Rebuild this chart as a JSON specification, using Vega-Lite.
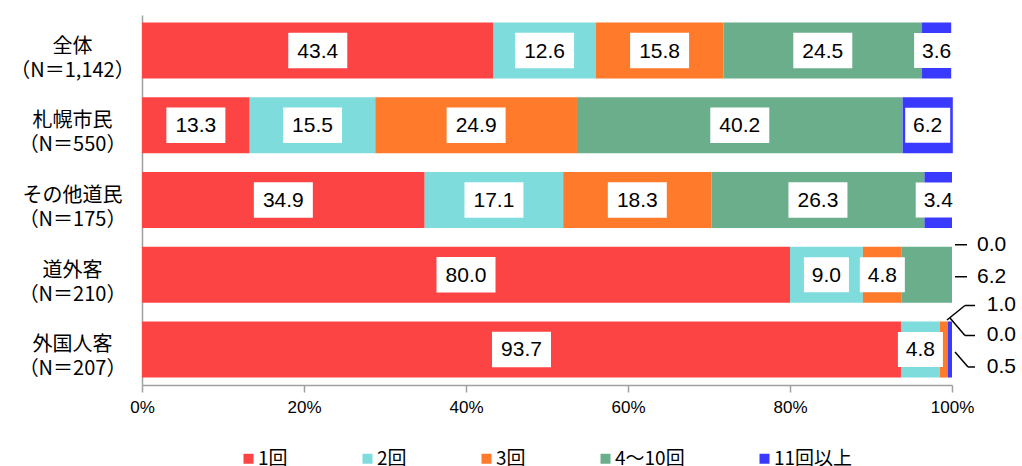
{
  "$schema": "https://vega.github.io/schema/vega-lite/v6.json",
  "width": 810,
  "height": 370,
  "autosize": "none",
  "padding": {"left": 142, "top": 15, "right": 70, "bottom": 81},
  "background": "white",
  "config": {"view": {"stroke": null}, "font": "Noto Sans CJK JP"},
  "datasets": {
    "d": [
      {"cat": "全体\n（N＝1,142）", "s": "1回", "o": 1, "v": 43.4},
      {"cat": "全体\n（N＝1,142）", "s": "2回", "o": 2, "v": 12.6},
      {"cat": "全体\n（N＝1,142）", "s": "3回", "o": 3, "v": 15.8},
      {"cat": "全体\n（N＝1,142）", "s": "4～10回", "o": 4, "v": 24.5},
      {"cat": "全体\n（N＝1,142）", "s": "11回以上", "o": 5, "v": 3.6},
      {"cat": "札幌市民\n（N＝550）", "s": "1回", "o": 1, "v": 13.3},
      {"cat": "札幌市民\n（N＝550）", "s": "2回", "o": 2, "v": 15.5},
      {"cat": "札幌市民\n（N＝550）", "s": "3回", "o": 3, "v": 24.9},
      {"cat": "札幌市民\n（N＝550）", "s": "4～10回", "o": 4, "v": 40.2},
      {"cat": "札幌市民\n（N＝550）", "s": "11回以上", "o": 5, "v": 6.2},
      {"cat": "その他道民\n（N＝175）", "s": "1回", "o": 1, "v": 34.9},
      {"cat": "その他道民\n（N＝175）", "s": "2回", "o": 2, "v": 17.1},
      {"cat": "その他道民\n（N＝175）", "s": "3回", "o": 3, "v": 18.3},
      {"cat": "その他道民\n（N＝175）", "s": "4～10回", "o": 4, "v": 26.3},
      {"cat": "その他道民\n（N＝175）", "s": "11回以上", "o": 5, "v": 3.4},
      {"cat": "道外客\n（N＝210）", "s": "1回", "o": 1, "v": 80.0},
      {"cat": "道外客\n（N＝210）", "s": "2回", "o": 2, "v": 9.0},
      {"cat": "道外客\n（N＝210）", "s": "3回", "o": 3, "v": 4.8},
      {"cat": "道外客\n（N＝210）", "s": "4～10回", "o": 4, "v": 6.2},
      {"cat": "道外客\n（N＝210）", "s": "11回以上", "o": 5, "v": 0.0},
      {"cat": "外国人客\n（N＝207）", "s": "1回", "o": 1, "v": 93.7},
      {"cat": "外国人客\n（N＝207）", "s": "2回", "o": 2, "v": 4.8},
      {"cat": "外国人客\n（N＝207）", "s": "3回", "o": 3, "v": 1.0},
      {"cat": "外国人客\n（N＝207）", "s": "4～10回", "o": 4, "v": 0.0},
      {"cat": "外国人客\n（N＝207）", "s": "11回以上", "o": 5, "v": 0.5}
    ]
  },
  "data": {"name": "d"},
  "transform": [
    {"stack": "v", "groupby": ["cat"], "sort": [{"field": "o", "order": "ascending"}], "as": ["v0", "v1"]},
    {"calculate": "(datum.v0 + datum.v1) / 2", "as": "mid"}
  ],
  "encoding": {
    "y": {
      "field": "cat",
      "type": "nominal",
      "sort": null,
      "scale": {"paddingInner": 0.25, "paddingOuter": 0.1},
      "axis": {
        "title": null,
        "ticks": false,
        "domainColor": "#a0a0a0",
        "domainWidth": 1.5,
        "labelExpr": "split(datum.value, '\\n')",
        "labelAlign": "center",
        "labelBaseline": "middle",
        "labelPadding": 70,
        "labelFontSize": 20,
        "labelLineHeight": 24,
        "labelOffset": -4,
        "labelColor": "#000000",
        "labelFont": "Noto Sans CJK JP"
      }
    }
  },
  "layer": [
    {
      "mark": {"type": "bar"},
      "encoding": {
        "x": {
          "field": "v0",
          "type": "quantitative",
          "scale": {"domain": [0, 100], "nice": false},
          "axis": {
            "title": null,
            "values": [0, 20, 40, 60, 80, 100],
            "labelExpr": "datum.value + '%'",
            "grid": false,
            "domainColor": "#a0a0a0",
            "domainWidth": 1.5,
            "tickColor": "#a0a0a0",
            "tickWidth": 1.5,
            "tickSize": 7,
            "labelFont": "Liberation Sans",
            "labelFontSize": 17,
            "labelColor": "#000000",
            "labelPadding": 7,
            "labelFlush": false,
            "labelOverlap": false
          }
        },
        "x2": {"field": "v1"},
        "color": {
          "field": "s",
          "type": "nominal",
          "scale": {
            "domain": ["1回", "2回", "3回", "4～10回", "11回以上"],
            "range": ["#fc4444", "#7fdcdc", "#ff7a2a", "#6aae8c", "#3a3aff"]
          },
          "legend": {
            "title": null,
            "orient": "none",
            "legendX": 97,
            "legendY": 434,
            "direction": "horizontal",
            "symbolType": "square",
            "symbolSize": 100,
            "symbolStrokeWidth": 0,
            "labelFontSize": 19,
            "labelFont": "Noto Sans CJK JP",
            "labelColor": "#000000",
            "labelOffset": 0,
            "columnPadding": 70,
            "padding": 0
          }
        }
      }
    },
    {
      "transform": [{"filter": "datum.v >= 3 && !(indexof(datum.cat, '道外客') === 0 && datum.o === 4)"}],
      "mark": {"type": "point", "filled": true, "color": "white", "opacity": 1},
      "encoding": {
        "x": {"field": "mid", "type": "quantitative"},
        "shape": {"condition": {"test": "datum.v >= 10", "value": "M-1,-0.6H1V0.6H-1Z"}, "value": "M-1,-0.78H1V0.78H-1Z"},
        "size": {"condition": {"test": "datum.v >= 10", "value": 3481}, "value": 2025}
      }
    },
    {
      "transform": [{"filter": "datum.v >= 3 && !(indexof(datum.cat, '道外客') === 0 && datum.o === 4)"}],
      "mark": {"type": "text", "font": "Liberation Sans", "fontSize": 21, "color": "#000000", "baseline": "middle", "align": "center", "dy": 1},
      "encoding": {
        "x": {"field": "mid", "type": "quantitative"},
        "text": {"field": "v", "type": "quantitative", "format": ".1f"}
      }
    },
    {
      "transform": [{"filter": "indexof(datum.cat, '道外客') === 0 && datum.o === 5"}],
      "mark": {"type": "text", "font": "Liberation Sans", "fontSize": 21, "color": "#000000", "baseline": "middle", "align": "left", "yOffset": -30},
      "encoding": {"x": {"datum": 103.1}, "text": {"field": "v", "type": "quantitative", "format": ".1f"}}
    },
    {
      "transform": [{"filter": "indexof(datum.cat, '道外客') === 0 && datum.o === 4"}],
      "mark": {"type": "text", "font": "Liberation Sans", "fontSize": 21, "color": "#000000", "baseline": "middle", "align": "left", "yOffset": 2},
      "encoding": {"x": {"datum": 103.1}, "text": {"field": "v", "type": "quantitative", "format": ".1f"}}
    },
    {
      "transform": [{"filter": "indexof(datum.cat, '外国人客') === 0 && datum.o === 3"}],
      "mark": {"type": "text", "font": "Liberation Sans", "fontSize": 21, "color": "#000000", "baseline": "middle", "align": "left", "yOffset": -44},
      "encoding": {"x": {"datum": 104.3}, "text": {"field": "v", "type": "quantitative", "format": ".1f"}}
    },
    {
      "transform": [{"filter": "indexof(datum.cat, '外国人客') === 0 && datum.o === 4"}],
      "mark": {"type": "text", "font": "Liberation Sans", "fontSize": 21, "color": "#000000", "baseline": "middle", "align": "left", "yOffset": -14},
      "encoding": {"x": {"datum": 104.3}, "text": {"field": "v", "type": "quantitative", "format": ".1f"}}
    },
    {
      "transform": [{"filter": "indexof(datum.cat, '外国人客') === 0 && datum.o === 5"}],
      "mark": {"type": "text", "font": "Liberation Sans", "fontSize": 21, "color": "#000000", "baseline": "middle", "align": "left", "yOffset": 18},
      "encoding": {"x": {"datum": 104.3}, "text": {"field": "v", "type": "quantitative", "format": ".1f"}}
    },
    {
      "transform": [{"filter": "indexof(datum.cat, '道外客') === 0 && datum.o === 5"}],
      "mark": {"type": "rule", "color": "#000000", "strokeWidth": 1.5, "yOffset": -30},
      "encoding": {"x": {"datum": 100.37}, "x2": {"datum": 101.85}}
    },
    {
      "transform": [{"filter": "indexof(datum.cat, '道外客') === 0 && datum.o === 4"}],
      "mark": {"type": "rule", "color": "#000000", "strokeWidth": 1.5, "yOffset": 2},
      "encoding": {"x": {"datum": 100.37}, "x2": {"datum": 101.85}}
    },
    {
      "transform": [{"filter": "indexof(datum.cat, '外国人客') === 0 && datum.o === 3"}],
      "mark": {"type": "rule", "color": "#000000", "strokeWidth": 1.5, "yOffset": -44},
      "encoding": {"x": {"datum": 101.6}, "x2": {"datum": 102.84}}
    },
    {
      "transform": [{"filter": "indexof(datum.cat, '外国人客') === 0 && datum.o === 4"}],
      "mark": {"type": "rule", "color": "#000000", "strokeWidth": 1.5, "yOffset": -14},
      "encoding": {"x": {"datum": 101.6}, "x2": {"datum": 102.84}}
    },
    {
      "transform": [{"filter": "indexof(datum.cat, '外国人客') === 0 && datum.o === 5"}],
      "mark": {"type": "rule", "color": "#000000", "strokeWidth": 1.5, "yOffset": 17.5},
      "encoding": {"x": {"datum": 101.98}, "x2": {"datum": 102.84}}
    },
    {
      "transform": [{"filter": "indexof(datum.cat, '外国人客') === 0 && datum.o === 3"}],
      "mark": {"type": "rule", "color": "#000000", "strokeWidth": 1.5, "yOffset": -29.5, "y2Offset": -44},
      "encoding": {"x": {"datum": 99.38}, "x2": {"datum": 101.6}, "y2": {"field": "cat"}}
    },
    {
      "transform": [{"filter": "indexof(datum.cat, '外国人客') === 0 && datum.o === 4"}],
      "mark": {"type": "rule", "color": "#000000", "strokeWidth": 1.5, "yOffset": -31.5, "y2Offset": -14},
      "encoding": {"x": {"datum": 99.75}, "x2": {"datum": 101.6}, "y2": {"field": "cat"}}
    },
    {
      "transform": [{"filter": "indexof(datum.cat, '外国人客') === 0 && datum.o === 5"}],
      "mark": {"type": "rule", "color": "#000000", "strokeWidth": 1.5, "yOffset": 2.5, "y2Offset": 17.5},
      "encoding": {"x": {"datum": 100.37}, "x2": {"datum": 101.98}, "y2": {"field": "cat"}}
    }
  ]
}
